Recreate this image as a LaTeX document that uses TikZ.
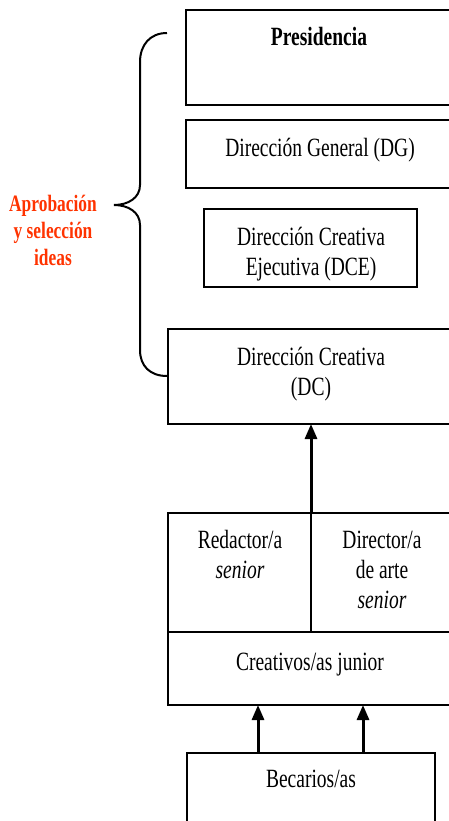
\documentclass[tikz,border=0pt]{standalone}
\usepackage{fontspec}
\setmainfont{Liberation Serif}
\usetikzlibrary{arrows.meta}
\definecolor{redlabel}{RGB}{255,51,0}
\newcommand\vsc[1]{\scalebox{1}[1.35]{#1}}
\tikzset{
  box/.style={draw, line width=2pt, rectangle, inner sep=0pt, outer sep=0pt, overlay},
  lbl/.style={anchor=base, inner sep=0pt, font=\fontsize{19.5}{30}\selectfont},
  redlbl/.style={anchor=base, inner sep=0pt, text=redlabel, font=\fontsize{17.4}{27}\selectfont\bfseries},
  arr/.style={line width=3pt, -{Triangle[length=15pt,width=12pt]}},
  bracestyle/.style={line width=2pt}
}
\begin{document}
\begin{tikzpicture}[x=1pt,y=-1pt]
\useasboundingbox (0,0) rectangle (448,821);
% boxes (right sides run past the picture edge)
\node[box, minimum width=420pt, minimum height=95pt] (pres) at (396,57.5) {};
\node[box, minimum width=420pt, minimum height=68pt] (dg) at (396,154) {};
\node[box, minimum width=213pt, minimum height=78pt] (dce) at (310.5,248) {};
\node[box, minimum width=440pt, minimum height=95pt] (dc) at (388,376.5) {};
\node[box, minimum width=143pt, minimum height=119pt] (red) at (239.5,572.5) {};
\node[box, minimum width=300pt, minimum height=119pt] (dir) at (461,572.5) {};
\node[box, minimum width=440pt, minimum height=73pt] (creat) at (388,668.5) {};
\node[box, minimum width=248pt, minimum height=97pt] (bec) at (311,801.5) {};
% texts
\node[lbl] (tpres) at (319,46) {\vsc{\bfseries Presidencia}};
\node[lbl] (tdg) at (320,157) {\vsc{Dirección General (DG)}};
\node[lbl] (tdce1) at (311,245) {\vsc{Dirección Creativa}};
\node[lbl] (tdce2) at (311,275) {\vsc{Ejecutiva (DCE)}};
\node[lbl] (tdc1) at (311,365) {\vsc{Dirección Creativa}};
\node[lbl] (tdc2) at (311,395) {\vsc{(DC)}};
\node[lbl] (tred1) at (240,548) {\vsc{Redactor/a}};
\node[lbl] (tred2) at (240,578) {\vsc{\itshape senior}};
\node[lbl] (tdir1) at (382,548) {\vsc{Director/a}};
\node[lbl] (tdir2) at (382,578) {\vsc{de arte}};
\node[lbl] (tdir3) at (382,608) {\vsc{\itshape senior}};
\node[lbl] (tcreat) at (310,670) {\vsc{Creativos/as junior}};
\node[lbl] (tbec) at (311,787) {\vsc{Becarios/as}};
% red label
\node[redlbl] (ap1) at (53,211) {\vsc{Aprobación}};
\node[redlbl] (ap2) at (53,238) {\vsc{y selección}};
\node[redlbl] (ap3) at (53,265) {\vsc{ideas}};
% brace
\coordinate (btop) at (167,33);
\coordinate (btip) at (114,205);
\coordinate (bbot) at (167,376);
\draw[bracestyle] (btop) .. controls (150,33) and (140,45) .. (140,62) -- (140,185)
  .. controls (140,198) and (128,205) .. (btip)
  .. controls (128,205) and (140,212) .. (140,225) -- (140,350)
  .. controls (140,366) and (150,376) .. (bbot);
% arrows
\draw[arr] (red.north east) -- (red.north east |- dc.south);
\draw[arr] ([xshift=-53pt]bec.north) -- ([xshift=-53pt]bec.north |- creat.south);
\draw[arr] ([xshift=52pt]bec.north) -- ([xshift=52pt]bec.north |- creat.south);
\end{tikzpicture}
\end{document}
